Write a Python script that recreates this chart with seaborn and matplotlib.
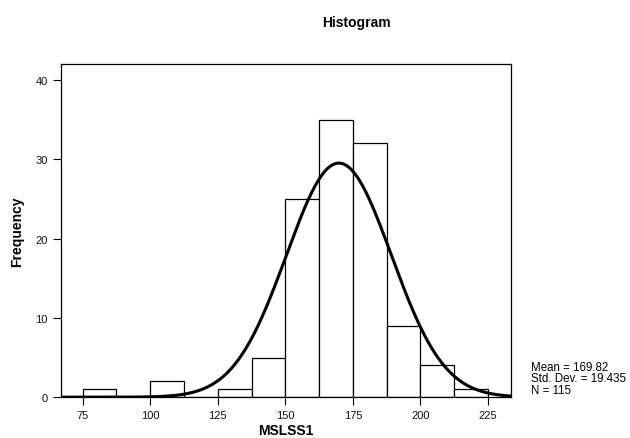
import numpy as np
import matplotlib
matplotlib.use("Agg")
import matplotlib.pyplot as plt
import seaborn as sns

# bin edges (width 12.5) and counts
bin_edges = [75, 87.5, 100, 112.5, 125, 137.5, 150, 162.5, 175, 187.5, 200, 212.5, 225]
counts = [1, 0, 2, 0, 1, 5, 25, 35, 32, 9, 4, 1]
x_ticks = [75, 100, 125, 150, 175, 200, 225]
y_ticks = [0, 10, 20, 30, 40]

mean = 169.82
std_dev = 19.435
n_obs = 115

sns.set_style("white")
plt.rcParams['font.family'] = ['Liberation Sans', 'DejaVu Sans']
plt.rcParams['text.color'] = 'black'
plt.rcParams['axes.labelcolor'] = 'black'

fig = plt.figure(figsize=(6.3, 4.39), dpi=100)
ax = fig.add_axes([0.097, 0.093, 0.714, 0.759])

bin_left = bin_edges[:-1]
sns.histplot(x=bin_left, weights=counts, bins=bin_edges, ax=ax,
             color="white", edgecolor="black", linewidth=0.9, alpha=1)

# fitted normal curve, scaled to counts
xs = np.linspace(67, 233.5, 400)
width = bin_edges[1] - bin_edges[0]
ys = n_obs * width * np.exp(-0.5 * ((xs - mean) / std_dev) ** 2) / (std_dev * np.sqrt(2 * np.pi))
sns.lineplot(x=xs, y=ys, ax=ax, color="black", linewidth=2.2)

ax.set_xlim(67, 233.5)
ax.set_ylim(0, 42)
ax.set_xticks(x_ticks)
ax.set_yticks(y_ticks)
ax.tick_params(axis="both", direction="out", length=6, width=0.8, labelsize=8,
               left=True, bottom=True, color="black", labelcolor="#111111")
for s in ax.spines.values():
    s.set_color("black")
    s.set_linewidth(0.9)

ax.set_xlabel("MSLSS1", fontsize=10, fontweight="bold", labelpad=2)
ax.set_ylabel("Frequency", fontsize=10, fontweight="bold", labelpad=8)
fig.text(0.565, 0.947, "Histogram", ha="center", va="center",
         fontsize=10, fontweight="bold")

fig.text(0.843, 0.096,
         f"Mean = {mean}\nStd. Dev. = {std_dev}\nN = {n_obs}",
         ha="left", va="bottom", fontsize=8.3, linespacing=0.95)

fig.savefig("out.png", dpi=100)
